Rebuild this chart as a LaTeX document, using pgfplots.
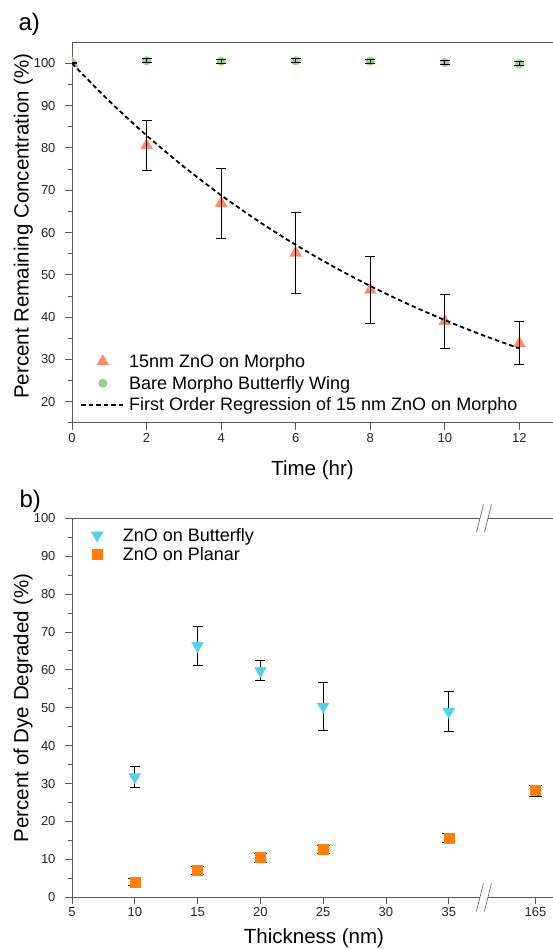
\documentclass[border=0pt]{standalone}
\usepackage{pgfplots}
\pgfplotsset{compat=1.18}
\usepackage{fontspec}
\setmainfont{Liberation Sans}
\definecolor{tri}{HTML}{F88D64}
\definecolor{grn}{HTML}{97D08C}
\definecolor{cyn}{HTML}{55D0EE}
\definecolor{org}{HTML}{FF7F0E}
\definecolor{axg}{HTML}{5A5A5A}

\pgfplotsset{
  base/.style={
    scale only axis, width=481pt,
    axis x line*=box, axis y line*=left,
    xtick pos=bottom, ytick pos=left,
    axis line style={axg, line width=0.9pt},
    tick style={axg, line width=0.9pt},
    tick align=outside,
    major tick length=7pt, minor tick length=4.5pt,
    tick label style={font=\fontsize{13}{15}\selectfont, text=black!85},
    yticklabel style={xshift=-6pt},
    /pgf/number format/assume math mode=true,
    label style={font=\fontsize{20.5}{24}\selectfont},
    legend cell align=left,
    legend style={draw=none, fill=none, font=\fontsize{18}{20}\selectfont,
      inner sep=0pt, nodes={inner sep=0pt}, column sep=4pt},
  },
  markleg/.style={legend image code/.code={\path (0pt,0pt) (43pt,0pt);\draw[mark repeat=2,mark phase=2,##1] plot coordinates {(0pt,0pt) (21.5pt,0pt) (43pt,0pt)};}},
  lineleg/.style={legend image code/.code={\draw[##1] (0pt,0pt) -- (43pt,0pt);}},
  ebar/.style={draw=none, mark=none, forget plot, error bars/.cd, y dir=both, y explicit,
    error bar style={black, line width=0.9pt, solid},
    error mark options={black, rotate=90, mark size=#1, line width=0.9pt, solid}},
  ebar/.default=5pt,
}

\pgfplotstableread{
x y e
0 100 0
2 80.6 5.9
4 66.9 8.3
6 55.15 9.65
8 46.4 7.9
10 39.05 6.35
12 33.8 5.1
}\zmorpho

\pgfplotstableread{
x y e
0 100.2 0
2 100.6 0.5
4 100.5 0.5
6 100.6 0.5
8 100.5 0.5
10 100.2 0.5
12 99.9 0.5
}\bare

\pgfplotstableread{
x y
0 100
1 91.08
2 82.96
3 75.56
4 68.82
5 62.68
6 57.09
7 52.00
8 47.36
9 43.14
10 39.29
11 35.79
12 32.60
}\regr

\pgfplotstableread{
x y e
10 31.75 2.65
15 66.35 5.05
20 59.8 2.6
25 50.35 6.35
35 49.0 5.2
}\butterfly

\pgfplotstableread{
x y e
10 4.1 0.9
15 7.15 1.05
20 10.45 1.15
25 12.65 1.15
35 15.65 1.15
41.9 28.15 1.45
}\planar

\begin{document}
\begin{tikzpicture}
\path[use as bounding box] (0,0) rectangle (553pt,949pt);

\begin{axis}[base, at={(72pt,526.1pt)}, anchor=south west, height=380.7pt,
  xmin=0, xmax=12.9, ymin=15, ymax=105,
  xtick={0,2,...,12}, ytick={20,30,...,100}, minor ytick={15,25,...,95},
  clip marker paths=true,
  xlabel={Time (hr)}, ylabel={Percent Remaining Concentration (\%)},
  xlabel style={at={(axis description cs:0.5,-0.1376)}, anchor=base},
  ylabel style={at={(axis description cs:-0.0904,0.517)}, anchor=base},
  legend style={at={(axis description cs:0.017,0.181)}, anchor=north west, row sep=7.3pt},
]
\addplot[only marks, mark=triangle*, mark size=6.8pt, color=tri, markleg]
  table[x=x, y=y] {\zmorpho};
\addlegendentry{15nm ZnO on Morpho}
\addplot[only marks, mark=*, mark size=4.3pt, color=grn, markleg]
  table[x=x, y=y] {\bare};
\addlegendentry{Bare Morpho Butterfly Wing}
\addplot[black, line width=1.8pt, dash pattern=on 4.5pt off 3pt, lineleg, smooth]
  table[x=x, y=y] {\regr};
\addlegendentry{First Order Regression of 15 nm ZnO on Morpho}
\addplot[ebar] table[x=x, y=y, y error=e] {\zmorpho};
\addplot[ebar] table[x=x, y=y, y error=e] {\bare};
\end{axis}

\begin{axis}[base, at={(72pt,51.7pt)}, anchor=south west, height=379pt,
  xmin=5, xmax=43.3, ymin=0, ymax=100,
  xtick={5,10,15,20,25,30,35,41.9}, xticklabels={5,10,15,20,25,30,35,165},
  ytick={0,10,...,100}, minor ytick={5,15,...,95},
  xlabel={Thickness (nm)}, ylabel={Percent of Dye Degraded (\%)},
  xlabel style={at={(axis description cs:0.503,-0.1206)}, anchor=base},
  ylabel style={at={(axis description cs:-0.0908,0.5)}, anchor=base},
  legend style={at={(axis description cs:0.0067,0.975)}, anchor=north west, row sep=4.6pt},
]
\addplot[only marks, mark=triangle*, mark size=6.8pt, mark options={rotate=180}, color=cyn, markleg]
  table[x=x, y=y] {\butterfly};
\addlegendentry{ZnO on Butterfly}
\addplot[only marks, mark=square*, mark size=5pt, color=org, markleg]
  table[x=x, y=y] {\planar};
\addlegendentry{ZnO on Planar}
\addplot[ebar] table[x=x, y=y, y error=e] {\butterfly};
\addplot[ebar=6.5pt] table[x=x, y=y, y error=e] {\planar};
\coordinate (brkT) at (axis cs:37.8,100);
\coordinate (brkB) at (axis cs:37.8,0);
\end{axis}

\foreach \c in {brkT, brkB} {
  \draw[white, line width=2.5pt] ([xshift=-4pt]\c) -- ([xshift=4pt]\c);
  \draw[axg, line width=0.6pt] ([xshift=-4pt]\c) ++(-3.5pt,-14pt) -- ++(7pt,28pt);
  \draw[axg, line width=0.6pt] ([xshift=4pt]\c) ++(-3.5pt,-14pt) -- ++(7pt,28pt);
}

\node[anchor=base west, font=\fontsize{24}{28}\selectfont] at (15pt,918.5pt) {a)};
\node[anchor=base west, font=\fontsize{24}{28}\selectfont] at (16pt,441pt) {b)};
\end{tikzpicture}
\end{document}
